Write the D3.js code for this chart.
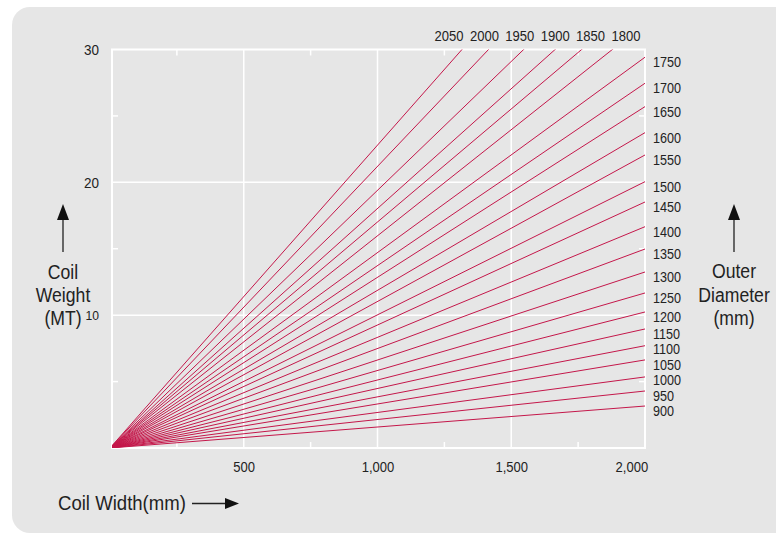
<!DOCTYPE html>
<html>
<head>
<meta charset="utf-8">
<script src="https://cdn.jsdelivr.net/npm/d3@7"></script>
<style>
  html, body { margin: 0; padding: 0; background: #ffffff; }
  svg { display: block; }
  text { font-family: "Liberation Sans", Arial, Helvetica, sans-serif; fill: #222; }
</style>
</head>
<body>
<svg id="chart" width="776" height="534"></svg>
<script>
// ---- data ----
const diameters = [900, 950, 1000, 1050, 1100, 1150, 1200, 1250, 1300, 1350, 1400, 1450,
                   1500, 1550, 1600, 1650, 1700, 1750, 1800, 1850, 1900, 1950, 2000, 2050];
// coil weight (MT) reached at 2,000 mm coil width for each outer diameter
const weightAt2000 = [3.16, 4.29, 5.35, 6.63, 7.70, 8.96, 10.24, 11.67, 13.25, 14.98, 16.66, 18.52,
                      20.05, 22.06, 23.74, 25.70, 27.46, 29.42, 31.95, 34.03, 36.06, 38.8, 42.4, 45.6];
const xTicks = [500, 1000, 1500, 2000];
const xMinorTicks = [250, 750, 1250, 1750];
const yTicks = [10, 20, 30];
const yMinorTicks = [5, 15, 25];
const topLabels = ["2050", "2000", "1950", "1900", "1850", "1800"];

// ---- layout ----
const svg = d3.select("#chart");
const frame = { left: 112, right: 645, top: 49.5, bottom: 448 };
const x = d3.scaleLinear().domain([0, 2000]).range([110, frame.right]);
const y = d3.scaleLinear().domain([0, 30]).range([frame.bottom, frame.top]);
const lineColor = "#c4174a";
const NUM_SX = 0.9;    // horizontal condensing of numeric labels
const TITLE_SX = 0.84; // horizontal condensing of axis titles

// helper: condensed text placed at (px, py)
function ctext(parent, px, py, str, size, sx, anchor) {
  return parent.append("g")
    .attr("transform", `translate(${px},${py}) scale(${sx},1)`)
    .append("text")
    .attr("text-anchor", anchor || "start")
    .attr("font-size", size)
    .text(str);
}

// panel
svg.append("rect")
  .attr("x", 12).attr("y", 7).attr("width", 790).attr("height", 526)
  .attr("rx", 18).attr("ry", 18)
  .attr("fill", "#e6e6e6");

// grid
const g = svg.append("g");
g.selectAll(".vgrid").data(xTicks.slice(0, 3)).join("line")
  .attr("x1", d => x(d)).attr("x2", d => x(d))
  .attr("y1", frame.top).attr("y2", frame.bottom)
  .attr("stroke", "#fff").attr("stroke-width", 1.5);
g.selectAll(".hgrid").data(yTicks.slice(0, 2)).join("line")
  .attr("x1", frame.left).attr("x2", frame.right)
  .attr("y1", d => y(d)).attr("y2", d => y(d))
  .attr("stroke", "#fff").attr("stroke-width", 1.5);

// frame
g.append("rect")
  .attr("x", frame.left).attr("y", frame.top)
  .attr("width", frame.right - frame.left).attr("height", frame.bottom - frame.top)
  .attr("fill", "none").attr("stroke", "#fff").attr("stroke-width", 2);

// minor ticks
const tl = 6;
g.selectAll(".mtb").data(xMinorTicks).join("line")
  .attr("x1", d => x(d)).attr("x2", d => x(d))
  .attr("y1", frame.bottom).attr("y2", frame.bottom - tl)
  .attr("stroke", "#fff").attr("stroke-width", 1.5);
g.selectAll(".mtt").data(xMinorTicks).join("line")
  .attr("x1", d => x(d)).attr("x2", d => x(d))
  .attr("y1", frame.top).attr("y2", frame.top + tl)
  .attr("stroke", "#fff").attr("stroke-width", 1.5);
g.selectAll(".mtl").data(yMinorTicks).join("line")
  .attr("x1", frame.left).attr("x2", frame.left + tl)
  .attr("y1", d => y(d)).attr("y2", d => y(d))
  .attr("stroke", "#fff").attr("stroke-width", 1.5);
g.selectAll(".mtr").data(yMinorTicks).join("line")
  .attr("x1", frame.right).attr("x2", frame.right - tl)
  .attr("y1", d => y(d)).attr("y2", d => y(d))
  .attr("stroke", "#fff").attr("stroke-width", 1.5);

// clip for lines
svg.append("clipPath").attr("id", "clip")
  .append("rect")
  .attr("x", frame.left).attr("y", frame.top)
  .attr("width", frame.right - frame.left).attr("height", frame.bottom - frame.top);

const series = diameters.map((d, i) => ({ d, w: weightAt2000[i] }));
const line = d3.line().x(p => x(p[0])).y(p => y(p[1]));
svg.append("g").attr("clip-path", "url(#clip)")
  .selectAll("path").data(series).join("path")
  .attr("d", s => line([[0, 0], [2000, s.w]]))
  .attr("fill", "none").attr("stroke", lineColor).attr("stroke-width", 1);

// right labels (diameters whose lines end on the right edge), dodged to avoid overlap
const rightSeries = series.filter(s => s.w <= 30);
const minGap = 15.5;
const labelY = rightSeries.map(s => y(s.w) + 5); // label centre, bottom (900) first
for (let i = 1; i < labelY.length; i++) {
  if (labelY[i - 1] - labelY[i] < minGap) labelY[i] = labelY[i - 1] - minGap;
}
const rl = svg.append("g");
rightSeries.forEach((s, i) =>
  ctext(rl, frame.right + 8, labelY[i] + 5, s.d, 14, NUM_SX, "start"));

// top labels
const topScale = d3.scalePoint().domain(topLabels).range([449, 626]);
const tlg = svg.append("g");
topLabels.forEach(t => ctext(tlg, topScale(t), 41, t, 14.5, NUM_SX, "middle"));

// x axis labels
const xAxis = d3.axisBottom(x).tickValues(xTicks).tickFormat(d3.format(",")).tickSize(0).tickPadding(0);
const xa = svg.append("g").attr("transform", `translate(0,${frame.bottom + 14})`).call(xAxis);
xa.select(".domain").remove();
xa.attr("font-family", null).attr("font-size", null);
xa.selectAll("text").attr("font-size", 14.5).attr("fill", "#222")
  .attr("transform", `scale(${NUM_SX},1)`);
xa.selectAll(".tick").filter(d => d === 2000).select("text").attr("text-anchor", "end").attr("dx", 3);

// y axis labels
const yAxis = d3.axisLeft(y).tickValues(yTicks).tickSize(0).tickPadding(0);
const ya = svg.append("g").attr("transform", `translate(99,0)`).call(yAxis);
ya.select(".domain").remove();
ya.attr("font-family", null).attr("font-size", null);
ya.selectAll("text").attr("font-size", d => d === 10 ? 13.5 : 15).attr("fill", "#222")
  .attr("transform", `scale(${NUM_SX},1)`);

// axis titles
const titleSize = 21;
const tg = svg.append("g");
[["Coil", 279], ["Weight", 302], ["(MT)", 325]].forEach(([t, yy]) =>
  ctext(tg, 63, yy, t, titleSize, TITLE_SX, "middle"));
[["Outer", 278], ["Diameter", 302], ["(mm)", 325]].forEach(([t, yy]) =>
  ctext(tg, 734, yy, t, titleSize, TITLE_SX, "middle"));
ctext(tg, 58, 510, "Coil Width(mm)", titleSize, 0.885, "start");

// arrows
function upArrow(cx) {
  svg.append("line").attr("x1", cx).attr("x2", cx).attr("y1", 252).attr("y2", 215)
    .attr("stroke", "#222").attr("stroke-width", 1.3);
  svg.append("path").attr("d", `M${cx - 6},220 L${cx},204 L${cx + 6},220 Z`).attr("fill", "#111");
}
upArrow(63);
upArrow(734);
svg.append("line").attr("x1", 192).attr("x2", 230).attr("y1", 503.5).attr("y2", 503.5)
  .attr("stroke", "#222").attr("stroke-width", 1.3);
svg.append("path").attr("d", "M225,498 L239,503.5 L225,509 Z").attr("fill", "#111");
</script>
</body>
</html>
